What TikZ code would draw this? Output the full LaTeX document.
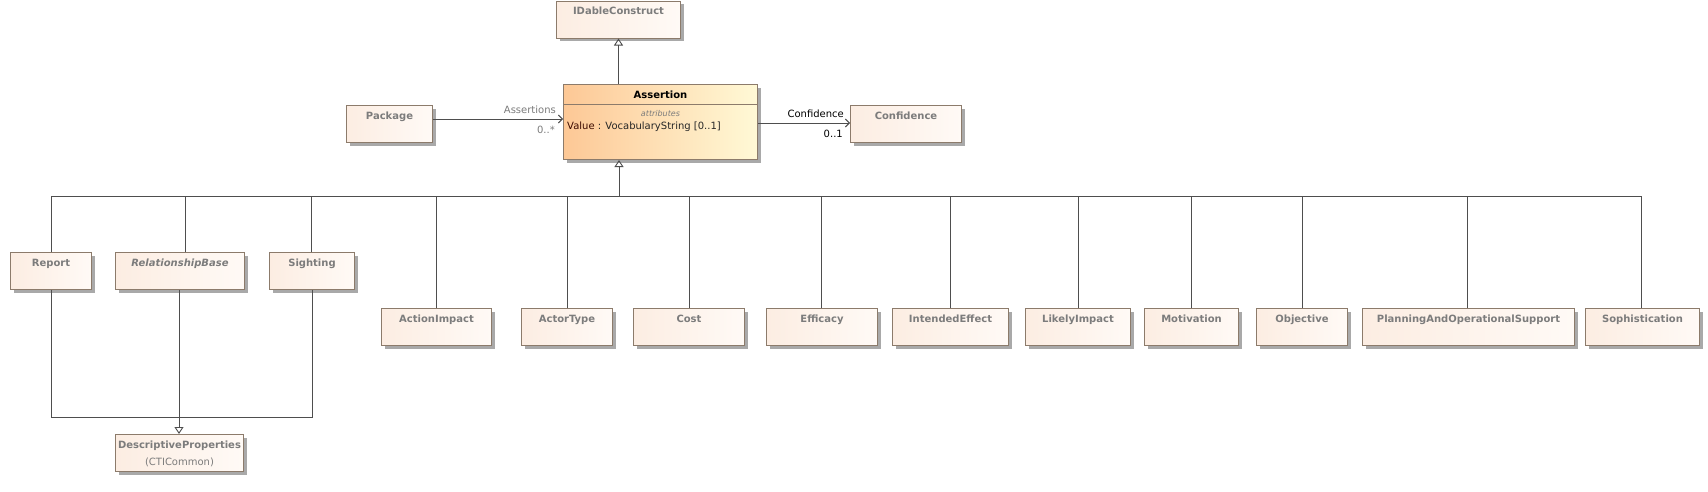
\documentclass[tikz,border=0pt]{standalone}
\usepackage{fontspec}
\setmainfont{DejaVu Sans}
\usetikzlibrary{arrows.meta,calc,shadows}
\definecolor{boxborder}{HTML}{8C7B6B}
\definecolor{boxleft}{HTML}{FCEDE2}
\definecolor{boxright}{HTML}{FFFAF6}
\definecolor{aleft}{HTML}{FDC896}
\definecolor{aright}{HTML}{FFF9D6}
\definecolor{titlegray}{HTML}{7C7C7C}
\definecolor{linecol}{HTML}{4E4E4E}
\definecolor{shadowcol}{HTML}{A0A0A0}
\definecolor{valcol}{HTML}{3C0A00}
\tikzset{
  cls/.style={draw=boxborder, line width=1pt, left color=boxleft, right color=boxright,
    minimum width=#1, minimum height=37pt, inner sep=0pt, anchor=north west,
    drop shadow={shadow xshift=3pt, shadow yshift=-3pt, fill=shadowcol, opacity=0.9}},
  ttl/.style={font=\fontsize{10}{12}\selectfont\bfseries, text=titlegray, anchor=base, inner sep=0pt},
  sub/.style={font=\fontsize{10}{12}\selectfont, text=titlegray, anchor=base, inner sep=0pt},
  conn/.style={draw=linecol, line width=0.9pt},
  gentip/.style={conn, -{Triangle[open, length=7pt, width=9pt]}},
  assoc/.style={conn, -{Straight Barb[length=4pt, width=8pt]}},
  lbl/.style={font=\fontsize{10}{12}\selectfont, anchor=base east, inner sep=0pt},
}
\begin{document}
\begin{tikzpicture}[x=1pt, y=-1pt]
\useasboundingbox (0,0) rectangle (1708,491);
\fill[white] (0,0) rectangle (1708,491);

% top
\node[cls=124pt] (idable) at (556,0.5) {};
\node[ttl] (idablet) at ($(idable.north)+(0,13.5)$) {IDableConstruct};

\node[draw=boxborder, line width=1pt, left color=aleft, right color=aright,
  minimum width=194pt, minimum height=75pt, inner sep=0pt, anchor=north west,
  drop shadow={shadow xshift=3pt, shadow yshift=-3pt, fill=shadowcol, opacity=0.9}] (assertion) at (563,84) {};
\draw[boxborder, line width=1pt] ($(assertion.north west)+(0,20)$) -- ($(assertion.north east)+(0,20)$);
\node[ttl, text=black] (assertiont) at ($(assertion.north)+(0,14)$) {Assertion};
\node[anchor=base, inner sep=0pt, font=\fontsize{8}{10}\selectfont\itshape, text=titlegray] (attrt) at ($(assertion.north)+(0,32)$) {attributes};
\node[anchor=base west, inner sep=0pt, font=\fontsize{10}{12}\selectfont, text=black!85] (valuet) at ($(assertion.north west)+(4,45)$) {\textcolor{valcol}{Value} : VocabularyString [0..1]};

\node[cls=86pt] (package) at (346,105) {};
\node[ttl] (packaget) at ($(package.north)+(0,14)$) {Package};
\node[cls=111pt] (confidence) at (850,105) {};
\node[ttl] (confidencet) at ($(confidence.north)+(0,14)$) {Confidence};

\coordinate (agen) at (assertion.north -| idable.south);
\draw[gentip] (agen) -- (idable.south);
\coordinate (pk) at (package.east |- 0,119);
\draw[assoc] (pk) -- (pk -| assertion.west);
\node[lbl, text=titlegray] (assertionsl) at (556,113) {Assertions};
\node[lbl, text=titlegray] (multa) at (555,133) {0..*};
\coordinate (cf) at (assertion.east |- 0,123);
\draw[assoc] (cf) -- (cf -| confidence.west);
\node[lbl, text=black] (confl) at (844,117) {Confidence};
\node[lbl, text=black] (multc) at (843,137) {0..1};

% upper row
\node[cls=81pt] (report) at (10,252) {};
\node[ttl] (reportt) at ($(report.north)+(0,14)$) {Report};
\node[cls=129pt] (relbase) at (115,252) {};
\node[ttl, font=\fontsize{10}{12}\selectfont\bfseries\itshape] (relbaset) at ($(relbase.north)+(0,14)$) {RelationshipBase};
\node[cls=85pt] (sighting) at (269,252) {};
\node[ttl] (sightingt) at ($(sighting.north)+(0,14)$) {Sighting};

% lower row
\node[cls=110pt] (actionimpact) at (381,308) {};
\node[ttl] (actionimpactt) at ($(actionimpact.north)+(0,14)$) {ActionImpact};
\node[cls=91pt] (actortype) at (521,308) {};
\node[ttl] (actortypet) at ($(actortype.north)+(0,14)$) {ActorType};
\node[cls=111pt] (cost) at (633,308) {};
\node[ttl] (costt) at ($(cost.north)+(0,14)$) {Cost};
\node[cls=111pt] (efficacy) at (766,308) {};
\node[ttl] (efficacyt) at ($(efficacy.north)+(0,14)$) {Efficacy};
\node[cls=116pt] (intended) at (892,308) {};
\node[ttl] (intendedt) at ($(intended.north)+(0,14)$) {IntendedEffect};
\node[cls=105pt] (likely) at (1025,308) {};
\node[ttl] (likelyt) at ($(likely.north)+(0,14)$) {LikelyImpact};
\node[cls=94pt] (motivation) at (1144,308) {};
\node[ttl] (motivationt) at ($(motivation.north)+(0,14)$) {Motivation};
\node[cls=91pt] (objective) at (1256,308) {};
\node[ttl] (objectivet) at ($(objective.north)+(0,14)$) {Objective};
\node[cls=212pt] (planning) at (1362,308) {};
\node[ttl] (planningt) at ($(planning.north)+(0,14)$) {PlanningAndOperationalSupport};
\node[cls=114pt] (sophistication) at (1585,308) {};
\node[ttl] (sophisticationt) at ($(sophistication.north)+(0,14)$) {Sophistication};

% descriptive properties
\node[cls=128pt] (descprops) at (115,434) {};
\node[ttl] (descpropst) at ($(descprops.north)+(0,14)$) {DescriptiveProperties};
\node[sub] (descpropss) at ($(descprops.north)+(0,31)$) {(CTICommon)};

% generalization bus to Assertion
\coordinate (busc) at (619,196);
\draw[gentip] (busc) -- (busc |- assertion.south);
\foreach \n/\dx in {report/0, relbase/5, sighting/-0.5, actionimpact/0, actortype/0, cost/0.5, efficacy/-0.5, intended/0, likely/0, motivation/0, objective/0.5, planning/-1, sophistication/-1}{
  \draw[conn] ([xshift=\dx pt]\n.north) |- (busc);
}

% generalization bus to DescriptiveProperties
\coordinate (busd) at (179,417);
\draw[conn] (report.south) |- (busd);
\draw[conn] ([xshift=0.5pt]sighting.south) |- (busd);
\draw[conn] (busd |- relbase.south) -- (busd);
\draw[gentip] (busd) -- (busd |- descprops.north);
\end{tikzpicture}
\end{document}
